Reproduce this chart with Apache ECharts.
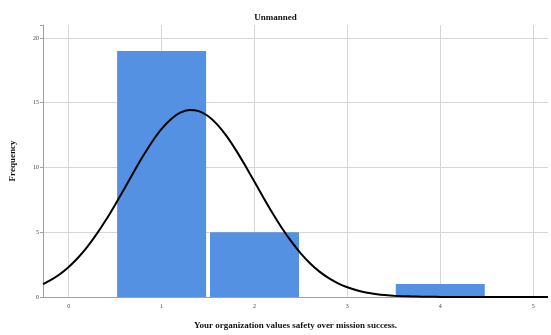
<!DOCTYPE html>
<html>
<head>
<meta charset="utf-8">
<script src="https://cdn.jsdelivr.net/npm/echarts@6/dist/echarts.min.js"></script>
<style>html,body{margin:0;padding:0;background:#fff}#c{width:551px;height:335px}</style>
</head>
<body>
<div id="c"></div>
<script>
var titleText = 'Unmanned';
var xName = 'Your organization values safety over mission success.';
var yName = 'Frequency';
var barX = [1, 2, 4];
var barY = [19, 5, 1];
var curveX = [-0.277, -0.2, -0.1, 0, 0.1, 0.2, 0.3, 0.4, 0.5, 0.6, 0.7, 0.8, 0.9, 1.0, 1.1, 1.2, 1.3, 1.4, 1.5, 1.6, 1.7, 1.8, 1.9, 2.0, 2.1, 2.2, 2.3, 2.4, 2.5, 2.6, 2.7, 2.8, 2.9, 3.0, 3.1, 3.2, 3.3, 3.4, 3.5, 3.6, 3.7, 3.8, 3.9, 4.0, 4.2, 4.5, 5.16];
var curveY = [0.99, 1.28, 1.74, 2.32, 3.03, 3.87, 4.85, 5.94, 7.13, 8.38, 9.65, 10.88, 12.01, 12.98, 13.73, 14.23, 14.44, 14.35, 13.97, 13.31, 12.42, 11.34, 10.15, 8.89, 7.63, 6.41, 5.27, 4.25, 3.35, 2.59, 1.96, 1.45, 1.05, 0.75, 0.52, 0.35, 0.24, 0.15, 0.10, 0.06, 0.04, 0.023, 0.013, 0.007, 0.002, 0, 0];

var chart = echarts.init(document.getElementById('c'), null, {renderer: 'canvas'});
var serif = 'Liberation Serif';
var grid = '#d6d6d6';
chart.setOption({
  animation: false,
  title: {text: titleText, left: 'center', top: 8,
    textStyle: {fontFamily: serif, fontWeight: 'bold', fontSize: 9, color: '#111'}},
  grid: {left: 41, right: 0, top: 25, bottom: 33},
  xAxis: {
    type: 'value', min: -0.277, max: 5.16, splitNumber: 6, minInterval: 1, maxInterval: 1,
    name: xName, nameLocation: 'middle', nameGap: 24,
    nameTextStyle: {fontFamily: serif, fontWeight: 'bold', fontSize: 9, color: '#111'},
    axisLine: {show: true, onZero: false, lineStyle: {color: '#a0a0a0', width: 1}},
    axisTick: {show: false},
    axisLabel: {fontFamily: serif, fontSize: 6, color: '#444', margin: 6,
      formatter: function (v) { return Math.abs(v - Math.round(v)) < 1e-6 ? String(Math.round(v)) : ''; }},
    splitLine: {show: true, lineStyle: {color: [grid, grid, grid, grid, grid, grid, grid, 'rgba(0,0,0,0)'], width: 1}}
  },
  yAxis: {
    type: 'value', min: 0, max: 21, interval: 5,
    name: yName, nameLocation: 'middle', nameGap: 26,
    nameTextStyle: {fontFamily: serif, fontWeight: 'bold', fontSize: 9, color: '#111'},
    axisLine: {show: true, onZero: false, lineStyle: {color: '#a0a0a0', width: 1}},
    axisTick: {show: true, length: 3, lineStyle: {color: '#a0a0a0'}},
    axisLabel: {fontFamily: serif, fontSize: 6, color: '#444', margin: 4,
      formatter: function (v) { return (v % 5 === 0) ? String(v) : ''; }},
    splitLine: {show: true, lineStyle: {color: [grid, grid, grid, grid, grid, 'rgba(0,0,0,0)'], width: 1}}
  },
  series: [
    {type: 'bar', data: barX.map(function (x, i) { return [x, barY[i]]; }),
      barWidth: 89, itemStyle: {color: '#5591e2'}, z: 2},
    {type: 'line', data: curveX.map(function (x, i) { return [x, curveY[i]]; }),
      smooth: 0.2, showSymbol: false, symbol: 'none',
      lineStyle: {color: '#000', width: 2}, z: 3}
  ]
});
</script>
</body>
</html>
